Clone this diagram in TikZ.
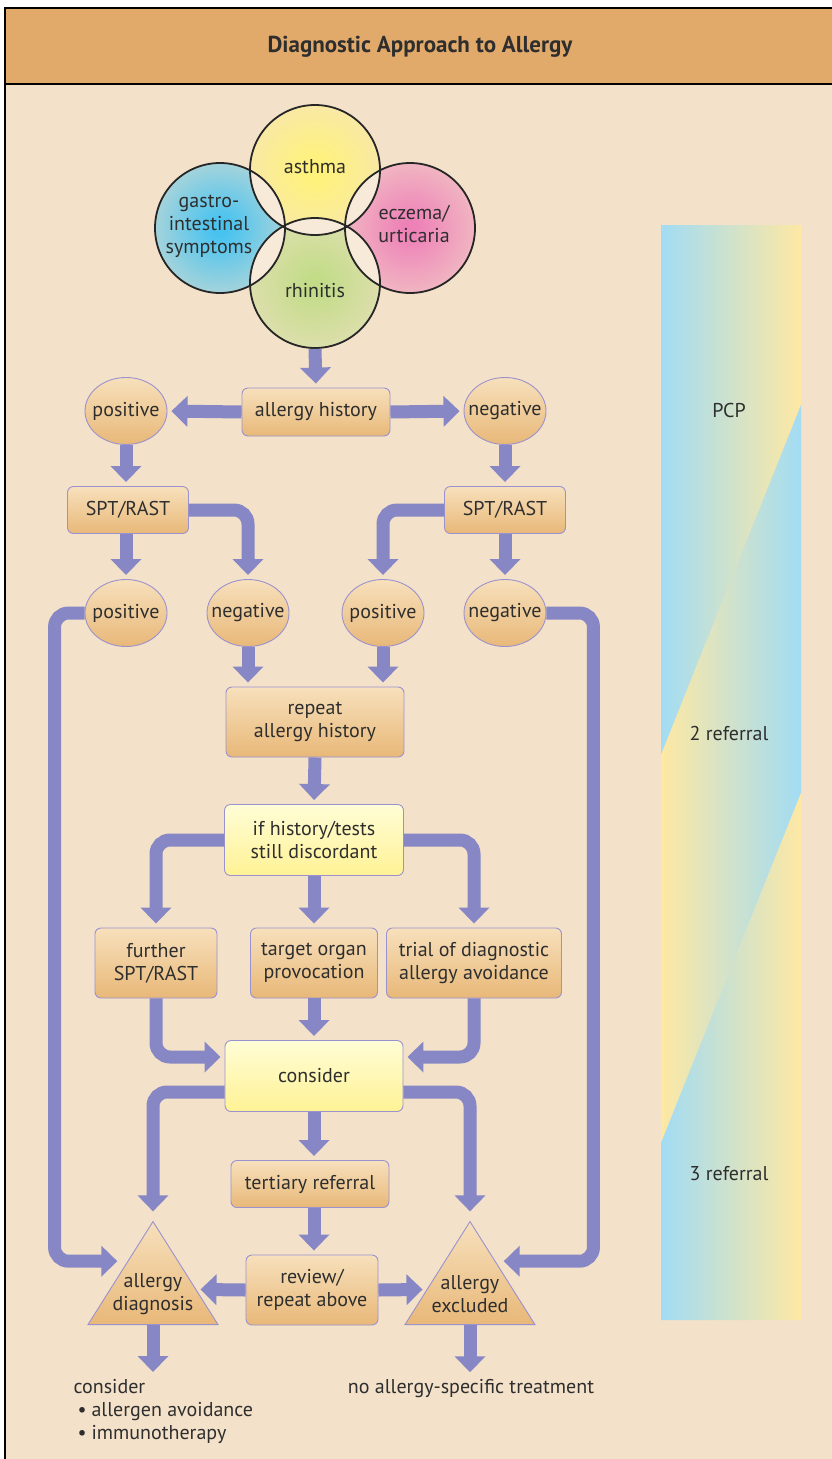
\documentclass[tikz,border=0pt]{standalone}
\usepackage{fontspec}
\setmainfont{PT Sans}
\usetikzlibrary{arrows.meta,shapes.geometric,calc}

\definecolor{hdr}{HTML}{E2AA6A}
\definecolor{bg}{HTML}{F3E1C9}
\definecolor{arrowc}{HTML}{8787C5}
\definecolor{boxtop}{HTML}{F7E0BC}
\definecolor{boxbot}{HTML}{E8B878}
\definecolor{yeltop}{HTML}{FFFDD6}
\definecolor{yelbot}{HTML}{FFF295}
\definecolor{edge}{HTML}{9A92CF}
\definecolor{barblue}{HTML}{A2DCF4}
\definecolor{baryel}{HTML}{FEE8A3}
\definecolor{ink}{HTML}{2E2E2E}
\definecolor{asthmac}{HTML}{FFF27A}
\definecolor{gastroc}{HTML}{48C3F0}
\definecolor{eczemac}{HTML}{EE82B8}
\definecolor{rhinitc}{HTML}{C2DC88}
\colorlet{blobin}{white}
\colorlet{blobout}{bg}
\pgfdeclareradialshading[blobin,blobout]{blob}{\pgfpoint{0bp}{0bp}}{color(0bp)=(blobin); color(3bp)=(blobin); color(44bp)=(blobout); color(50bp)=(blobout)}

\begin{document}
\begin{tikzpicture}[x=1pt,y=-1pt,font=\fontsize{20}{23}\selectfont,text=ink]
    \tikzstyle{flow box}=[rectangle,rounded corners=6pt,draw=edge,line width=0.9pt,top color=boxtop,bottom color=boxbot,align=center,inner sep=0]
    \tikzstyle{note box}=[flow box,top color=yeltop,bottom color=yelbot]
    \tikzstyle{answer}=[ellipse,draw=edge,line width=0.9pt,top color=boxtop,bottom color=boxbot,minimum width=82pt,minimum height=67pt,inner xsep=-10pt,inner ysep=0]
    \tikzstyle{verdict}=[isosceles triangle,isosceles triangle stretches,shape border rotate=90,draw=edge,line width=0.9pt,top color=boxtop,bottom color=boxbot,minimum width=130pt,minimum height=103pt,inner sep=0]
    \tikzstyle{symptom}=[circle,draw=black!85,line width=1.8pt,minimum size=130pt,inner sep=0]
    \tikzstyle{flow arrow}=[draw=arrowc,line width=13pt,-{Triangle[width=30pt,length=16pt]},rounded corners=14pt,shorten >=4pt]

    \useasboundingbox (0,0) rectangle (831,1459);
    \fill[white] (0,0) rectangle (831,1459);
    \fill[bg] (5,84) rectangle (840,1470);
    \fill[hdr] (5,8) rectangle (840,84);
    \draw[line width=2.5pt] (5,1470) -- (5,8) -- (840,8);
    \draw[line width=2.5pt] (5,84) -- (840,84);
    \node[font=\fontsize{23}{26}\selectfont\bfseries] (title) at (420,47) {Diagnostic Approach to Allergy};

    % referral bar
    \shade[left color=barblue,right color=baryel] (661,225) -- (801,225) -- (801,405) -- (661,755) -- cycle;
    \shade[left color=baryel,right color=barblue] (661,755) -- (801,405) -- (801,793) -- (661,1143) -- cycle;
    \shade[left color=barblue,right color=baryel] (661,1143) -- (801,793) -- (801,1320) -- (661,1320) -- cycle;
    \node (pcp) at (729,410) {PCP};
    \node (second) at (729,733) {2 referral};
    \node (third) at (729,1174) {3 referral};

    % symptom circles
    \colorlet{blobin}{asthmac}\shade[shading=blob] (315,170) circle (65);
    \colorlet{blobin}{gastroc}\shade[shading=blob] (220,228) circle (65);
    \colorlet{blobin}{eczemac}\shade[shading=blob] (410,228) circle (65);
    \colorlet{blobin}{rhinitc}\shade[shading=blob] (315,283) circle (65);
    \begin{scope}
        \clip (315,170) circle (65);
        \fill[bg!70!white] (220,228) circle (65) (410,228) circle (65);
        \fill[bg!70!white] (315,283) circle (65);
    \end{scope}
    \begin{scope}
        \clip (315,283) circle (65);
        \fill[bg!70!white] (220,228) circle (65);
        \fill[bg!70!white] (410,228) circle (65);
    \end{scope}
    \node[symptom,label={[yshift=3pt]center:asthma}] (asth) at (315,170) {};
    \node[symptom,label={[xshift=-11pt,yshift=2pt,align=center]center:gastro-\\intestinal\\symptoms}] (gast) at (220,228) {};
    \node[symptom,label={[xshift=4pt,yshift=4pt,align=center]center:eczema/\\urticaria}] (ecz) at (410,228) {};
    \node[symptom,label={[yshift=-8pt]center:rhinitis}] (rhin) at (315,283) {};

    % history and tests
    \node[flow box,minimum width=148pt,minimum height=48pt] (hist) at (316,412) {allergy history};
    \node[answer] (pos1) at (126,411) {positive};
    \node[answer] (neg1) at (505,411) {negative};
    \node[flow box,minimum width=121pt,minimum height=47pt] (spt1) at (128,510) {SPT/RAST};
    \node[flow box,minimum width=121pt,minimum height=47pt] (spt2) at (505,510) {SPT/RAST};
    \node[answer] (pos2) at (126,613) {positive};
    \node[answer] (neg2) at (248,613) {negative};
    \node[answer] (pos3) at (383,613) {positive};
    \node[answer] (neg3) at (505,613) {negative};
    \node[flow box,minimum width=178pt,minimum height=70pt] (rep) at (315,722) {repeat\\allergy history};
    \node[note box,minimum width=179pt,minimum height=71pt] (disc) at (314,840) {if history/tests\\still discordant};
    \node[flow box,minimum width=122pt,minimum height=70pt] (further) at (156,963) {further\\SPT/RAST};
    \node[flow box,minimum width=127pt,minimum height=70pt] (target) at (314,963) {target organ\\provocation};
    \node[flow box,minimum width=175pt,minimum height=70pt] (trial) at (474,963) {trial of diagnostic\\allergy avoidance};
    \node[note box,minimum width=178pt,minimum height=71pt] (cons) at (314,1076) {consider};
    \node[flow box,minimum width=158pt,minimum height=47pt] (tert) at (310,1184) {tertiary referral};
    \node[flow box,minimum width=132pt,minimum height=70pt] (rev) at (312,1290) {review/\\repeat above};
    \node[verdict,anchor=lower side] (diag) at (153,1325) {};
    \node[verdict,anchor=lower side] (excl) at (470,1325) {};
    \node[align=center] (diagtext) at (153,1294) {allergy\\diagnosis};
    \node[align=center] (excltext) at (470,1294) {allergy\\excluded};
    \node[anchor=north west,align=left,font=\fontsize{20}{23}\selectfont] (advice) at (70,1376) {consider\\\hspace{4pt}\textbullet\hspace{5pt}allergen avoidance\\\hspace{4pt}\textbullet\hspace{5pt}immunotherapy};
    \node (notreat) at (471,1389) {no allergy-specific treatment};

    % arrows
    \draw[flow arrow] (rhin.south) -- (hist.north);
    \draw[flow arrow] (hist.west) -- (pos1.east);
    \draw[flow arrow] (hist.east) -- (neg1.west);
    \draw[flow arrow] (pos1.south) -- (pos1.south |- spt1.north);
    \draw[flow arrow] (neg1.south) -- (spt2.north);
    \draw[flow arrow] (pos1.south |- spt1.south) -- (pos2.north);
    \draw[flow arrow] (spt1.east) -| (neg2.north);
    \draw[flow arrow] (spt2.west) -| (pos3.north);
    \draw[flow arrow] (spt2.south) -- (neg3.north);
    \draw[flow arrow] (neg2.south) -- (neg2.south |- rep.north);
    \draw[flow arrow] (pos3.south) -- (pos3.south |- rep.north);
    \draw[flow arrow] (rep.south) -- (disc.north);
    \draw[flow arrow] (disc.west) -| (further.north);
    \draw[flow arrow] (disc.south) -- (target.north);
    \draw[flow arrow] (disc.east) -| (trial.north);
    \draw[flow arrow] (further.south) |- ([yshift=19pt]cons.west);
    \draw[flow arrow] (target.south) -- (cons.north);
    \draw[flow arrow] (trial.south) |- ([yshift=19pt]cons.east);
    \draw[flow arrow] ([yshift=-16pt]cons.west) -| ([yshift=5pt]diag.apex);
    \draw[flow arrow] ([yshift=-16pt]cons.east) -| ([yshift=5pt]excl.apex);
    \draw[flow arrow] (cons.south) -- (cons.south |- tert.north);
    \draw[flow arrow] (cons.south |- tert.south) -- (cons.south |- rev.north);
    \draw[flow arrow] (rev.west) -- ($(diag.apex)!0.66!(diag.right corner)$);
    \draw[flow arrow] (rev.east) -- ($(excl.apex)!0.66!(excl.left corner)$);
    \draw[flow arrow] (pos2.west) -- ++(-30,0) |- ([xshift=-6pt]$(diag.apex)!0.39!(diag.left corner)$);
    \draw[flow arrow] (neg3.east) -- ++(47,0) |- ([xshift=4pt]$(excl.apex)!0.39!(excl.right corner)$);
    \draw[flow arrow] (diag.south) -- (diag.south |- advice.north);
    \draw[flow arrow] (excl.south) -- (excl.south |- notreat.north);
\end{tikzpicture}
\end{document}
